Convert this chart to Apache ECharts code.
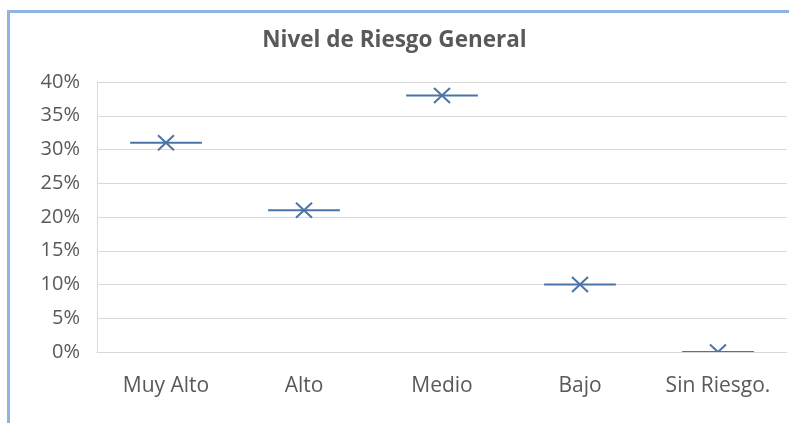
<!DOCTYPE html>
<html>
<head>
<meta charset="utf-8">
<script src="https://cdn.jsdelivr.net/npm/echarts@6/dist/echarts.min.js"></script>
<style>
html,body{margin:0;padding:0;background:#fff;}
#c{width:789px;height:423px;}
</style>
</head>
<body>
<div id="c"></div>
<script>
const titleText = 'Nivel de Riesgo General';
const categories = ['Muy Alto', 'Alto', 'Medio', 'Bajo', 'Sin Riesgo.'];
const values = [0.31, 0.21, 0.38, 0.10, 0.00];
const yTicks = [0, 0.05, 0.10, 0.15, 0.20, 0.25, 0.30, 0.35, 0.40];

const color = '#4a74a8';
const FONT = 'Open Sans';
const chart = echarts.init(document.getElementById('c'), null, {renderer: 'canvas'});
chart.setOption({
  animation: false,
  backgroundColor: '#fff',
  title: {
    text: titleText,
    left: 'center',
    top: 24,
    textStyle: {fontFamily: FONT, fontWeight: 'bold', fontSize: 22.5, color: '#595959'}
  },
  graphic: [{
    type: 'polyline',
    shape: {points: [[8.5, 430], [8.5, 11.5], [800, 11.5]]},
    style: {stroke: '#8fb4e0', lineWidth: 3, fill: null},
    silent: true
  }],
  grid: {left: 97, right: 2, top: 82, bottom: 71, containLabel: false},
  xAxis: {
    type: 'category',
    data: categories,
    boundaryGap: true,
    axisLine: {show: true, lineStyle: {color: '#d9d9d9', width: 1}},
    axisTick: {show: false},
    axisLabel: {fontFamily: FONT, fontSize: 21, color: '#595959', margin: 24, interval: 0, hideOverlap: false},
    splitLine: {show: false}
  },
  yAxis: {
    type: 'value',
    min: yTicks[0],
    max: yTicks[yTicks.length - 1],
    interval: 0.05,
    axisLine: {show: true, lineStyle: {color: '#d9d9d9', width: 1}},
    axisTick: {show: false},
    axisLabel: {
      fontFamily: FONT, fontSize: 20, color: '#595959', margin: 17,
      formatter: v => Math.round(v * 100) + '%'
    },
    splitLine: {show: true, lineStyle: {color: '#d9d9d9', width: 1}}
  },
  series: [{
    type: 'custom',
    clip: true,
    data: values.map((v, i) => [i, v]),
    renderItem: function (params, api) {
      const p = api.coord([api.value(0), api.value(1)]);
      const bw = api.size([1, 0])[0] * 0.52;
      const s = {stroke: color, lineWidth: 2};
      return {
        type: 'group',
        children: [
          {type: 'line', shape: {x1: p[0] - bw / 2, y1: p[1], x2: p[0] + bw / 2, y2: p[1]}, style: s},
          {type: 'line', shape: {x1: p[0] - 8, y1: p[1] - 7.5, x2: p[0] + 8, y2: p[1] + 7.5}, style: s},
          {type: 'line', shape: {x1: p[0] - 8, y1: p[1] + 7.5, x2: p[0] + 8, y2: p[1] - 7.5}, style: s}
        ]
      };
    }
  }]
});
</script>
</body>
</html>
